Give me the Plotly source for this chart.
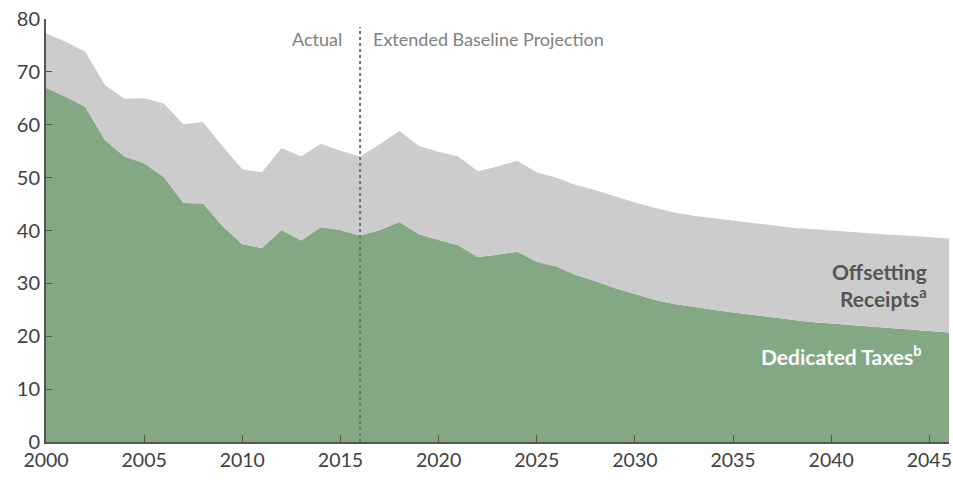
import plotly.graph_objects as go

# years 2000-2046, actual through 2016, projection after
years = list(range(2000, 2047))

# top of green area (dedicated taxes)
dedicated_taxes = [67.0, 65.3, 63.4, 57.1, 54.0, 52.7, 50.1, 45.2, 45.1, 40.8,
                   37.4, 36.7, 40.1, 38.1, 40.6, 40.1, 39.0, 40.1, 41.6, 39.3,
                   38.2, 37.2, 35.0, 35.4, 36.0, 34.1, 33.2, 31.6, 30.4, 29.1,
                   28.0, 26.9, 26.1, 25.5, 25.0, 24.5, 24.0, 23.5, 23.1, 22.7,
                   22.4, 22.1, 21.8, 21.5, 21.2, 21.0, 20.7]

# top of grey area (dedicated taxes + offsetting receipts)
total_receipts = [77.3, 75.7, 73.8, 67.5, 64.9, 65.0, 64.0, 60.1, 60.5, 55.9,
                  51.6, 51.0, 55.6, 54.0, 56.4, 55.1, 54.0, 56.3, 58.8, 56.0,
                  54.9, 54.0, 51.2, 52.1, 53.2, 51.0, 50.0, 48.6, 47.6, 46.4,
                  45.3, 44.3, 43.4, 42.8, 42.3, 41.9, 41.4, 41.0, 40.5, 40.3,
                  40.0, 39.7, 39.5, 39.2, 39.0, 38.7, 38.5]

split_year = 2016
y_ticks = [0, 10, 20, 30, 40, 50, 60, 70, 80]
x_ticks = [2000, 2005, 2010, 2015, 2020, 2025, 2030, 2035, 2040, 2045]

FONT = "Lato"
GREEN = "#84a884"
GREY = "#cccccc"

fig = go.Figure()
fig.add_trace(go.Scatter(x=years, y=dedicated_taxes, mode="lines",
                         line=dict(width=0, color=GREEN), fill="tozeroy",
                         fillcolor=GREEN, hoverinfo="skip"))
fig.add_trace(go.Scatter(x=years, y=total_receipts, mode="lines",
                         line=dict(width=0, color=GREY), fill="tonexty",
                         fillcolor=GREY, hoverinfo="skip"))

# divider between actual and projection
fig.add_shape(type="line", x0=split_year, x1=split_year, y0=0, y1=78.5,
              xref="x", yref="y", line=dict(color="#707070", width=2, dash="dot"))

fig.add_annotation(x=split_year, y=76.3, xref="x", yref="y", text="Actual",
                   showarrow=False, xanchor="right", xshift=-16,
                   font=dict(family=FONT, size=18, color="#808080"))
fig.add_annotation(x=split_year, y=76.3, xref="x", yref="y",
                   text="Extended Baseline Projection", showarrow=False,
                   xanchor="left", xshift=11,
                   font=dict(family=FONT, size=18, color="#808080"))
fig.add_annotation(x=2045.0, y=29.6, xref="x", yref="y",
                   text="<b>Offsetting<br>Receipts<sup>a</sup></b>",
                   showarrow=False, xanchor="right", align="right",
                   font=dict(family=FONT, size=21, color="#555555"))
fig.add_annotation(x=2044.7, y=16.5, xref="x", yref="y",
                   text="<b>Dedicated Taxes<sup>b</sup></b>",
                   showarrow=False, xanchor="right", align="right",
                   font=dict(family=FONT, size=21, color="#ffffff"))

fig.update_layout(
    width=953, height=480,
    margin=dict(l=46, r=4, t=19, b=38),
    plot_bgcolor="white", paper_bgcolor="white",
    showlegend=False,
    font=dict(family=FONT, size=20, color="#404040"),
)
fig.update_xaxes(range=[2000, 2046], tickvals=x_ticks, ticks="inside",
                 ticklen=7, tickcolor="#555555", showline=True,
                 linecolor="#555555", linewidth=2, showgrid=False,
                 zeroline=False, automargin=False, ticklabeloverflow="allow",
                 tickfont=dict(family=FONT, size=19.5, color="#404040"))
fig.update_yaxes(range=[0, 80], tickvals=y_ticks, ticks="inside",
                 ticklen=6, tickcolor="#555555", showline=True,
                 linecolor="#555555", linewidth=2, showgrid=False,
                 zeroline=False, automargin=False, ticklabeloverflow="allow",
                 tickfont=dict(family=FONT, size=20, color="#404040"))

# drop the browser's default 8px body margin so the figure fills the window,
# and hide the modebar
fig.write_html("out.html", config={"displayModeBar": False},
               post_script="document.body.style.margin = '0';")
